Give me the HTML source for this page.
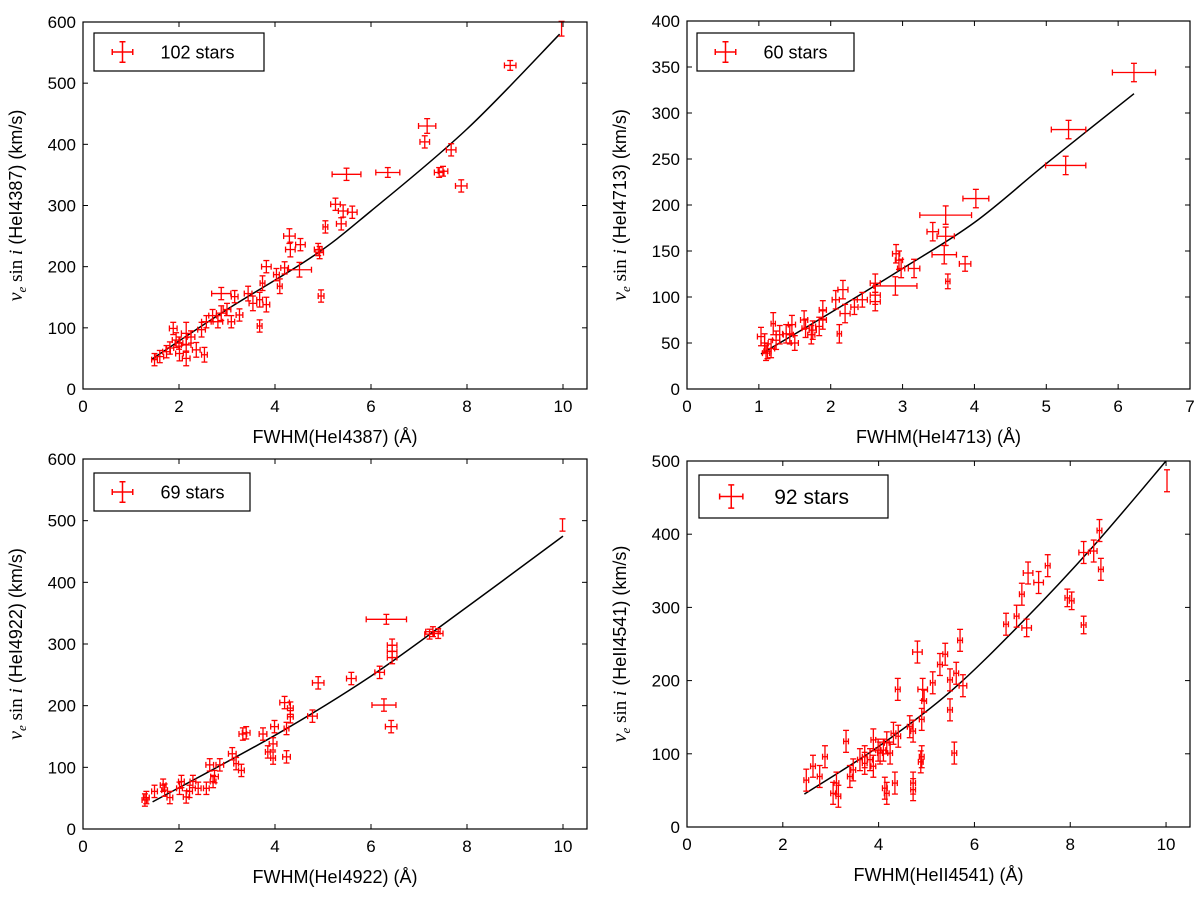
<!DOCTYPE html>
<html><head><meta charset="utf-8"><style>
body{margin:0;background:#fff}
svg{display:block;font-family:"Liberation Sans",sans-serif}
</style></head><body>
<svg id="c" width="1200" height="898" viewBox="0 0 1200 898"></svg>
<script>
// ----- data -----
const p1Points=[[9.97,589,0,12],[8.9,529,0.12,8],[7.17,430,0.18,12],[7.12,404,0.1,10],[7.67,391,0.1,10],[7.42,354,0.1,8],[7.5,356,0.1,8],[7.88,332,0.12,10],[6.35,354,0.25,8],[5.49,351,0.3,10],[5.26,302,0.1,10],[5.42,291,0.1,10],[5.61,289,0.1,10],[5.38,270,0.1,10],[5.05,265,0.05,10],[4.3,250,0.12,12],[4.53,236,0.1,10],[4.32,228,0.1,12],[4.9,228,0.08,10],[4.93,223,0.08,10],[3.82,200,0.1,10],[4.2,198,0.08,10],[4.51,195,0.25,12],[4.03,187,0.06,10],[4.1,168,0.05,12],[3.74,173,0.05,12],[4.96,152,0.06,10],[2.88,156,0.2,10],[3.16,151,0.07,10],[3.44,156,0.08,12],[3.54,140,0.08,12],[3.82,138,0.07,12],[3.68,146,0.06,12],[3.26,121,0.07,10],[3.09,110,0.07,10],[3.68,103,0.05,10],[2.88,124,0.1,12],[2.81,110,0.1,10],[2.57,110,0.1,10],[2.47,97,0.08,12],[2.15,91,0.1,18],[1.88,99,0.08,10],[1.94,80,0.08,12],[2.15,72,0.1,12],[2.36,64,0.08,12],[2.53,56,0.06,12],[2.01,58,0.08,12],[1.74,61,0.08,10],[1.49,48,0.06,10],[1.6,53,0.08,10],[2.15,50,0.08,12],[1.81,67,0.08,10],[2.25,85,0.08,10],[2.0,75,0.08,10],[2.7,120,0.08,10],[3.0,130,0.08,10]];
const p1FitX=[1.42,3,4.79,6,8,9.93];
const p1FitY=[48,130,217,291,425,580];
const p2Points=[[6.22,344,0.3,10],[5.31,282,0.24,10],[5.27,243,0.28,10],[4.02,207,0.18,10],[3.6,189,0.36,10],[3.42,171,0.08,10],[3.6,166,0.12,10],[3.58,146,0.17,10],[3.87,136,0.08,8],[3.63,117,0.03,8],[2.91,147,0.05,10],[2.95,140,0.05,10],[2.98,131,0.05,10],[3.16,131,0.08,10],[2.9,112,0.3,10],[2.62,115,0.07,10],[2.62,102,0.07,10],[2.62,95,0.07,10],[2.44,97,0.07,8],[2.17,108,0.07,10],[2.07,97,0.05,10],[2.2,82,0.07,10],[2.33,89,0.05,8],[2.12,60,0.03,10],[1.89,86,0.05,10],[1.89,75,0.05,10],[1.84,68,0.05,10],[1.75,64,0.05,10],[1.73,59,0.05,10],[1.63,75,0.05,10],[1.65,66,0.05,10],[1.46,70,0.05,10],[1.43,59,0.05,10],[1.5,50,0.05,8],[1.38,60,0.05,10],[1.29,59,0.05,10],[1.2,71,0.03,12],[1.24,53,0.05,10],[1.17,44,0.05,10],[1.1,39,0.05,8],[1.03,57,0.05,10],[1.08,50,0.05,10],[1.12,41,0.05,8]];
const p2FitX=[1.03,2,3,4,5,6.22];
const p2FitY=[38,83,131,181,245,321];
const p3Points=[[9.99,493,0,10],[6.32,340,0.42,8],[7.29,320,0.15,8],[7.22,316,0.1,8],[7.4,317,0.1,8],[6.44,298,0.1,10],[6.44,288,0.1,10],[6.44,278,0.1,10],[6.18,254,0.1,10],[5.59,244,0.1,10],[4.9,237,0.12,10],[4.2,205,0.1,10],[4.32,196,0.06,10],[4.32,182,0.06,10],[6.27,201,0.25,10],[6.42,166,0.12,10],[4.78,183,0.1,10],[3.99,166,0.08,10],[4.24,163,0.05,10],[3.75,154,0.08,10],[3.33,154,0.08,10],[3.4,156,0.08,10],[3.96,138,0.08,10],[3.85,125,0.05,10],[3.96,115,0.05,10],[4.24,117,0.08,10],[3.11,122,0.08,10],[3.19,106,0.05,10],[3.3,95,0.06,10],[2.85,104,0.08,10],[2.64,104,0.08,10],[2.74,85,0.08,10],[2.71,77,0.06,10],[2.57,66,0.06,10],[2.4,66,0.06,10],[2.29,77,0.06,10],[2.22,61,0.06,10],[2.05,77,0.06,10],[2.15,52,0.06,10],[2.01,66,0.06,10],[1.81,51,0.06,10],[1.7,63,0.06,10],[1.67,71,0.06,10],[1.49,61,0.06,10],[1.32,51,0.06,10],[1.29,47,0.06,10]];
const p3FitX=[1.45,4,6,8,10];
const p3FitY=[44,152,248,360,475];
const p4Points=[[10.02,473,0,15],[8.61,405,0.05,15],[8.28,375,0.1,15],[8.49,377,0.07,15],[8.64,352,0.05,15],[7.12,347,0.1,15],[7.34,334,0.1,15],[7.53,357,0.05,15],[6.99,318,0.05,15],[6.88,288,0.05,15],[6.66,277,0.05,15],[7.09,272,0.1,12],[7.94,313,0.05,12],[8.03,309,0.05,12],[8.28,276,0.05,12],[4.81,239,0.1,15],[5.7,255,0.05,15],[5.39,236,0.05,15],[5.28,222,0.05,15],[5.62,210,0.05,15],[5.49,201,0.05,15],[5.76,193,0.08,15],[5.13,197,0.05,15],[4.4,188,0.05,15],[4.92,188,0.1,15],[4.95,172,0.05,15],[5.49,160,0.05,15],[4.9,147,0.05,15],[4.65,137,0.05,15],[4.72,131,0.05,15],[4.41,124,0.05,15],[4.31,128,0.05,15],[4.17,115,0.05,15],[4.1,105,0.05,15],[4.03,101,0.05,15],[3.89,119,0.05,15],[3.82,92,0.05,15],[3.71,87,0.05,15],[3.61,92,0.05,15],[3.47,78,0.05,15],[3.32,117,0.05,15],[3.4,69,0.05,15],[3.12,60,0.05,15],[3.05,46,0.05,15],[3.16,42,0.05,15],[2.88,96,0.05,15],[2.77,69,0.05,15],[2.63,83,0.05,15],[2.49,64,0.05,15],[3.89,83,0.05,15],[4.13,53,0.05,15],[4.17,46,0.05,15],[4.34,60,0.05,15],[4.72,60,0.05,15],[4.72,51,0.05,15],[4.9,96,0.05,15],[4.88,89,0.05,15],[5.58,101,0.05,15],[3.99,105,0.05,15],[4.24,101,0.05,15],[3.71,96,0.05,15]];
const p4FitX=[2.45,4,5.5,7,8.5,10];
const p4FitY=[45,110,185,280,385,500];
const p1XTicks=[0,2,4,6,8,10], p1YTicks=[0,100,200,300,400,500,600];
const p2XTicks=[0,1,2,3,4,5,6,7], p2YTicks=[0,50,100,150,200,250,300,350,400];
const p3XTicks=[0,2,4,6,8,10], p3YTicks=[0,100,200,300,400,500,600];
const p4XTicks=[0,2,4,6,8,10], p4YTicks=[0,100,200,300,400,500];

const svg=document.getElementById('c');
const NS='http://www.w3.org/2000/svg';
function mk(tag,attrs,parent){const e=document.createElementNS(NS,tag);for(const k in attrs)e.setAttribute(k,attrs[k]);(parent||svg).appendChild(e);return e;}

function smoothPath(P){
  let d='M'+P[0][0].toFixed(1)+' '+P[0][1].toFixed(1);
  for(let i=0;i<P.length-1;i++){
    const p0=P[i-1]||P[i],p1=P[i],p2=P[i+1],p3=P[i+2]||P[i+1];
    const c1=[p1[0]+(p2[0]-p0[0])/6,p1[1]+(p2[1]-p0[1])/6];
    const c2=[p2[0]-(p3[0]-p1[0])/6,p2[1]-(p3[1]-p1[1])/6];
    d+='C'+c1[0].toFixed(1)+' '+c1[1].toFixed(1)+' '+c2[0].toFixed(1)+' '+c2[1].toFixed(1)+' '+p2[0].toFixed(1)+' '+p2[1].toFixed(1);
  }
  return d;
}

function panel(o){
  const g=mk('g',{});
  
  
  const sx=v=>o.L+(v-o.x0)/(o.x1-o.x0)*(o.R-o.L);
  const sy=v=>o.B-(v-o.y0)/(o.y1-o.y0)*(o.B-o.T);
  const P=o.fx.map((x,i)=>[sx(x),sy(o.fy[i])]);
  const fl=mk('path',{d:smoothPath(P),fill:'none',stroke:'#000','stroke-width':1.5},g);
  
  
  o.pts.forEach(p=>{
    const cx=sx(p[0]),cy=sy(p[1]);
    const eg=mk('g',{stroke:'#ff0000','stroke-width':1.3,fill:'none'},g);
    
    
    const ya=sy(p[1]+p[3]),yb=sy(p[1]-p[3]);
    mk('line',{x1:cx,x2:cx,y1:ya,y2:yb},eg);
    mk('line',{x1:cx-3,x2:cx+3,y1:ya,y2:ya},eg);
    mk('line',{x1:cx-3,x2:cx+3,y1:yb,y2:yb},eg);
    if(p[2]>0){const xa=sx(p[0]-p[2]),xb=sx(p[0]+p[2]);
      mk('line',{x1:xa,x2:xb,y1:cy,y2:cy},eg);
      mk('line',{x1:xa,x2:xa,y1:cy-3,y2:cy+3},eg);
      mk('line',{x1:xb,x2:xb,y1:cy-3,y2:cy+3},eg);}
  });
  const fr=mk('rect',{x:o.L,y:o.T,width:o.R-o.L,height:o.B-o.T,fill:'none',stroke:'#000','stroke-width':1.2},g);
  
  
  o.xt.forEach(v=>{const x=sx(v);
    mk('line',{x1:x,x2:x,y1:o.B,y2:o.B-5,stroke:'#000'},g);
    mk('line',{x1:x,x2:x,y1:o.T,y2:o.T+5,stroke:'#000'},g);
    const t=mk('text',{x:x,y:o.B+23,'text-anchor':'middle','font-size':17},g);t.textContent=v;
    
    });
  o.yt.forEach(v=>{const y=sy(v);
    mk('line',{x1:o.L,x2:o.L+5,y1:y,y2:y,stroke:'#000'},g);
    mk('line',{x1:o.R,x2:o.R-5,y1:y,y2:y,stroke:'#000'},g);
    const t=mk('text',{x:o.L-7,y:y+6,'text-anchor':'end','font-size':17},g);t.textContent=v;
    
    });
  const xl=mk('text',{x:(o.L+o.R)/2,y:o.B+54,'text-anchor':'middle','font-size':18},g);
  xl.textContent='FWHM('+o.line+') (Å)';
  
  
  const yl=mk('text',{transform:'translate('+(o.L-61)+','+((o.T+o.B)/2)+') rotate(-90)','text-anchor':'middle','font-size':18},g);
  yl.innerHTML='<tspan font-family="Liberation Serif" font-style="italic" font-size="20">v</tspan><tspan font-family="Liberation Serif" font-style="italic" font-size="13" dy="4">e</tspan><tspan dy="-4" font-family="Liberation Serif" font-size="19"> sin </tspan><tspan font-family="Liberation Serif" font-style="italic" font-size="19">i</tspan><tspan> ('+o.line+') (km/s)</tspan>';
  
  
  const lg=mk('g',{},g);
  
  
  const lb=o.leg;
  mk('rect',{x:lb[0],y:lb[1],width:lb[2],height:lb[3],fill:'#fff',stroke:'#000','stroke-width':1.2},lg);
  const mx=lb[0]+lb[3]*0.75, my=lb[1]+lb[3]/2, h=lb[3]*0.27;
  const lm=mk('g',{stroke:'#ff0000','stroke-width':1.5},lg);
  mk('line',{x1:mx-h,x2:mx+h,y1:my,y2:my},lm);
  mk('line',{x1:mx,x2:mx,y1:my-h,y2:my+h},lm);
  mk('line',{x1:mx-h,x2:mx-h,y1:my-3,y2:my+3},lm);
  mk('line',{x1:mx+h,x2:mx+h,y1:my-3,y2:my+3},lm);
  mk('line',{x1:mx-3,x2:mx+3,y1:my-h,y2:my-h},lm);
  mk('line',{x1:mx-3,x2:mx+3,y1:my+h,y2:my+h},lm);
  const lt=mk('text',{x:lb[0]+lb[3]*1.75,y:my+o.lfs*0.36,'font-size':o.lfs},lg);
  lt.textContent=o.label;
  
  
}
panel({name:'panel-hei4387',L:83,R:587,T:22,B:389,x0:0,x1:10.5,y0:0,y1:600,pts:p1Points,fx:p1FitX,fy:p1FitY,xt:p1XTicks,yt:p1YTicks,line:'HeI4387',leg:[94,33,170,38],label:'102 stars',lfs:18});
panel({name:'panel-hei4713',L:687,R:1190,T:21,B:389,x0:0,x1:7,y0:0,y1:400,pts:p2Points,fx:p2FitX,fy:p2FitY,xt:p2XTicks,yt:p2YTicks,line:'HeI4713',leg:[697,33,157,38],label:'60 stars',lfs:18});
panel({name:'panel-hei4922',L:83,R:587,T:459,B:829,x0:0,x1:10.5,y0:0,y1:600,pts:p3Points,fx:p3FitX,fy:p3FitY,xt:p3XTicks,yt:p3YTicks,line:'HeI4922',leg:[94,473,156,38],label:'69 stars',lfs:18});
panel({name:'panel-heii4541',L:687,R:1190,T:461,B:827,x0:0,x1:10.5,y0:0,y1:500,pts:p4Points,fx:p4FitX,fy:p4FitY,xt:p4XTicks,yt:p4YTicks,line:'HeII4541',leg:[699,475,189,43],label:'92 stars',lfs:21});
</script>
</body></html>
